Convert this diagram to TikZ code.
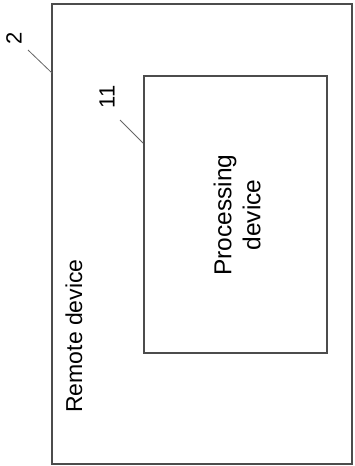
\documentclass[tikz,border=0pt]{standalone}
\usepackage{fontspec}
\setmainfont{Liberation Sans}
\begin{document}
\begin{tikzpicture}[x=1pt,y=-1pt,
  box/.style={draw=black!70,line width=1.2pt},
  lead/.style={draw=black!60,line width=0.8pt},
  lbl/.style={rotate=90,inner sep=0pt,font=\fontsize{23}{28}\selectfont},
  num/.style={rotate=90,inner sep=0pt,font=\fontsize{22}{26}\selectfont}]
\useasboundingbox (0,0) rectangle (355,466);
\draw[box] (52,4) rectangle (352,464);
\draw[box] (144,76) rectangle (327,353);
\node[lbl] (remote) at (74,336) {Remote device};
\node[lbl,align=center,font=\fontsize{24.5}{29}\selectfont] (proc) at (237,215) {Processing\\device};
\node[num] (n2) at (14,38) {2};
\node[num] (n11) at (107,97) {11};
\coordinate (e2) at (52,73);
\coordinate (e11) at (143,143);
\draw[lead] (28,50) -- (e2);
\draw[lead] (120,120) -- (e11);
\end{tikzpicture}
\end{document}
